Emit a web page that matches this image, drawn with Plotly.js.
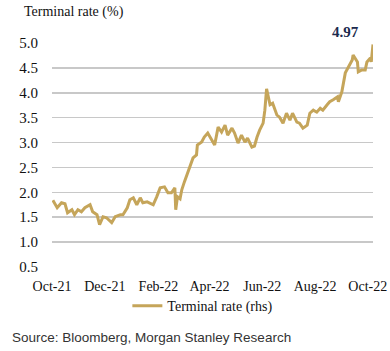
<!DOCTYPE html>
<html>
<head>
<meta charset="utf-8">
<script src="https://cdn.plot.ly/plotly-3.0.1.min.js"></script>
<style>html,body{margin:0;padding:0;background:#fff;}#chart{width:390px;height:351px;}</style>
</head>
<body>
<div id="chart"></div>
<script>
const dates = ["2021-10-02","2021-10-07","2021-10-12","2021-10-16","2021-10-19","2021-10-24","2021-10-27","2021-10-31",
"2021-11-04","2021-11-08","2021-11-14","2021-11-17","2021-11-22","2021-11-25","2021-11-29",
"2021-12-03","2021-12-09","2021-12-13","2021-12-19","2021-12-22","2021-12-27","2021-12-30",
"2022-01-03","2022-01-07","2022-01-11","2022-01-14","2022-01-19","2022-01-22","2022-01-26","2022-01-30",
"2022-02-03","2022-02-08","2022-02-12","2022-02-16","2022-02-20","2022-02-21","2022-02-23","2022-02-26","2022-02-28",
"2022-03-03","2022-03-09","2022-03-13","2022-03-17","2022-03-18","2022-03-23","2022-03-26","2022-03-30",
"2022-04-04","2022-04-07","2022-04-11","2022-04-15","2022-04-19","2022-04-22","2022-04-27","2022-04-30",
"2022-05-04","2022-05-08","2022-05-12","2022-05-15","2022-05-20","2022-05-23","2022-05-26","2022-05-29",
"2022-06-02","2022-06-04","2022-06-06","2022-06-10","2022-06-13","2022-06-18","2022-06-21","2022-06-25","2022-06-29",
"2022-07-03","2022-07-06","2022-07-11","2022-07-14","2022-07-18","2022-07-23","2022-07-26","2022-07-30",
"2022-08-03","2022-08-07","2022-08-10","2022-08-15","2022-08-18","2022-08-22","2022-08-27","2022-08-28",
"2022-09-01","2022-09-05","2022-09-08","2022-09-13","2022-09-14","2022-09-19","2022-09-20","2022-09-24","2022-09-28","2022-09-30",
"2022-10-04","2022-10-05","2022-10-07"];
const terminalRate = [1.84,1.69,1.79,1.77,1.59,1.65,1.55,1.65,
1.61,1.69,1.75,1.61,1.55,1.35,1.51,
1.49,1.39,1.51,1.55,1.55,1.69,1.85,
1.89,1.75,1.89,1.79,1.81,1.79,1.75,1.91,
2.09,2.11,1.99,1.99,2.09,1.65,1.91,1.87,2.05,
2.21,2.49,2.69,2.75,2.95,3.01,3.11,3.19,
3.05,2.95,3.31,3.21,3.35,3.15,3.29,3.19,
2.99,3.15,3.01,3.09,2.91,2.93,3.11,3.25,
3.39,3.65,4.08,3.76,3.79,3.55,3.51,3.39,3.59,
3.45,3.59,3.41,3.39,3.29,3.35,3.59,3.65,
3.61,3.69,3.65,3.76,3.82,3.86,3.92,3.82,
4.02,4.40,4.50,4.66,4.76,4.62,4.42,4.46,4.46,4.62,
4.70,4.62,4.97];
const tickDates = ["2021-10-01","2021-12-01","2022-02-01","2022-04-01","2022-06-01","2022-08-01","2022-10-01"];
const tickLabels = ["Oct-21","Dec-21","Feb-22","Apr-22","Jun-22","Aug-22","Oct-22"];
const yTicks = [0.5,1.0,1.5,2.0,2.5,3.0,3.5,4.0,4.5,5.0];
const seriesName = "Terminal rate (rhs)";
const lastLabel = "4.97";

const serif = "Liberation Serif, Times New Roman, serif";
const trace = {
  x: dates, y: terminalRate, type: "scatter", mode: "lines", name: seriesName,
  line: {color: "#C5A55A", width: 3}
};
const layout = {
  width: 390, height: 351,
  margin: {l: 52, r: 17, t: 43, b: 84},
  paper_bgcolor: "#fff", plot_bgcolor: "#fff",
  showlegend: true,
  legend: {orientation: "h", x: 0.47, xanchor: "center", y: -0.175, yanchor: "middle",
    bgcolor: "rgba(0,0,0,0)",
    font: {family: serif, size: 14, color: "#111"}, itemwidth: 30},
  xaxis: {type: "date", range: ["2021-10-01","2022-10-07"], tickvals: tickDates, ticktext: tickLabels,
    showgrid: false, zeroline: false, showline: false, ticks: "",
    ticklabelstandoff: 9,
    tickfont: {family: serif, size: 14, color: "#111"}},
  yaxis: {range: [0.5, 5.0], tickvals: yTicks, ticktext: yTicks.map(v => v.toFixed(1)),
    showgrid: true, gridcolor: "#C8C8C8", gridwidth: 1.5, zeroline: false, showline: false, ticks: "",
    ticklabelstandoff: 13,
    tickfont: {family: serif, size: 15, color: "#111"}},
  annotations: [
    {text: "Terminal rate (%)", xref: "paper", yref: "paper", x: -0.093, y: 1.138, xanchor: "left", yanchor: "middle",
      showarrow: false, font: {family: serif, size: 14, color: "#111"}},
    {text: "<b>" + lastLabel + "</b>", xref: "paper", yref: "paper", x: 0.913, y: 1.049, xanchor: "center", yanchor: "middle",
      showarrow: false, font: {family: serif, size: 15, color: "#1B2A4E"}},
    {text: "Source: Bloomberg, Morgan Stanley Research", xref: "paper", yref: "paper", x: -0.131, y: -0.3125,
      xanchor: "left", yanchor: "middle", showarrow: false,
      font: {family: "Liberation Sans, Arial, sans-serif", size: 13.5, color: "#333"}}
  ]
};
Plotly.newPlot("chart", [trace], layout, {displayModeBar: false, staticPlot: true});
</script>
</body>
</html>
